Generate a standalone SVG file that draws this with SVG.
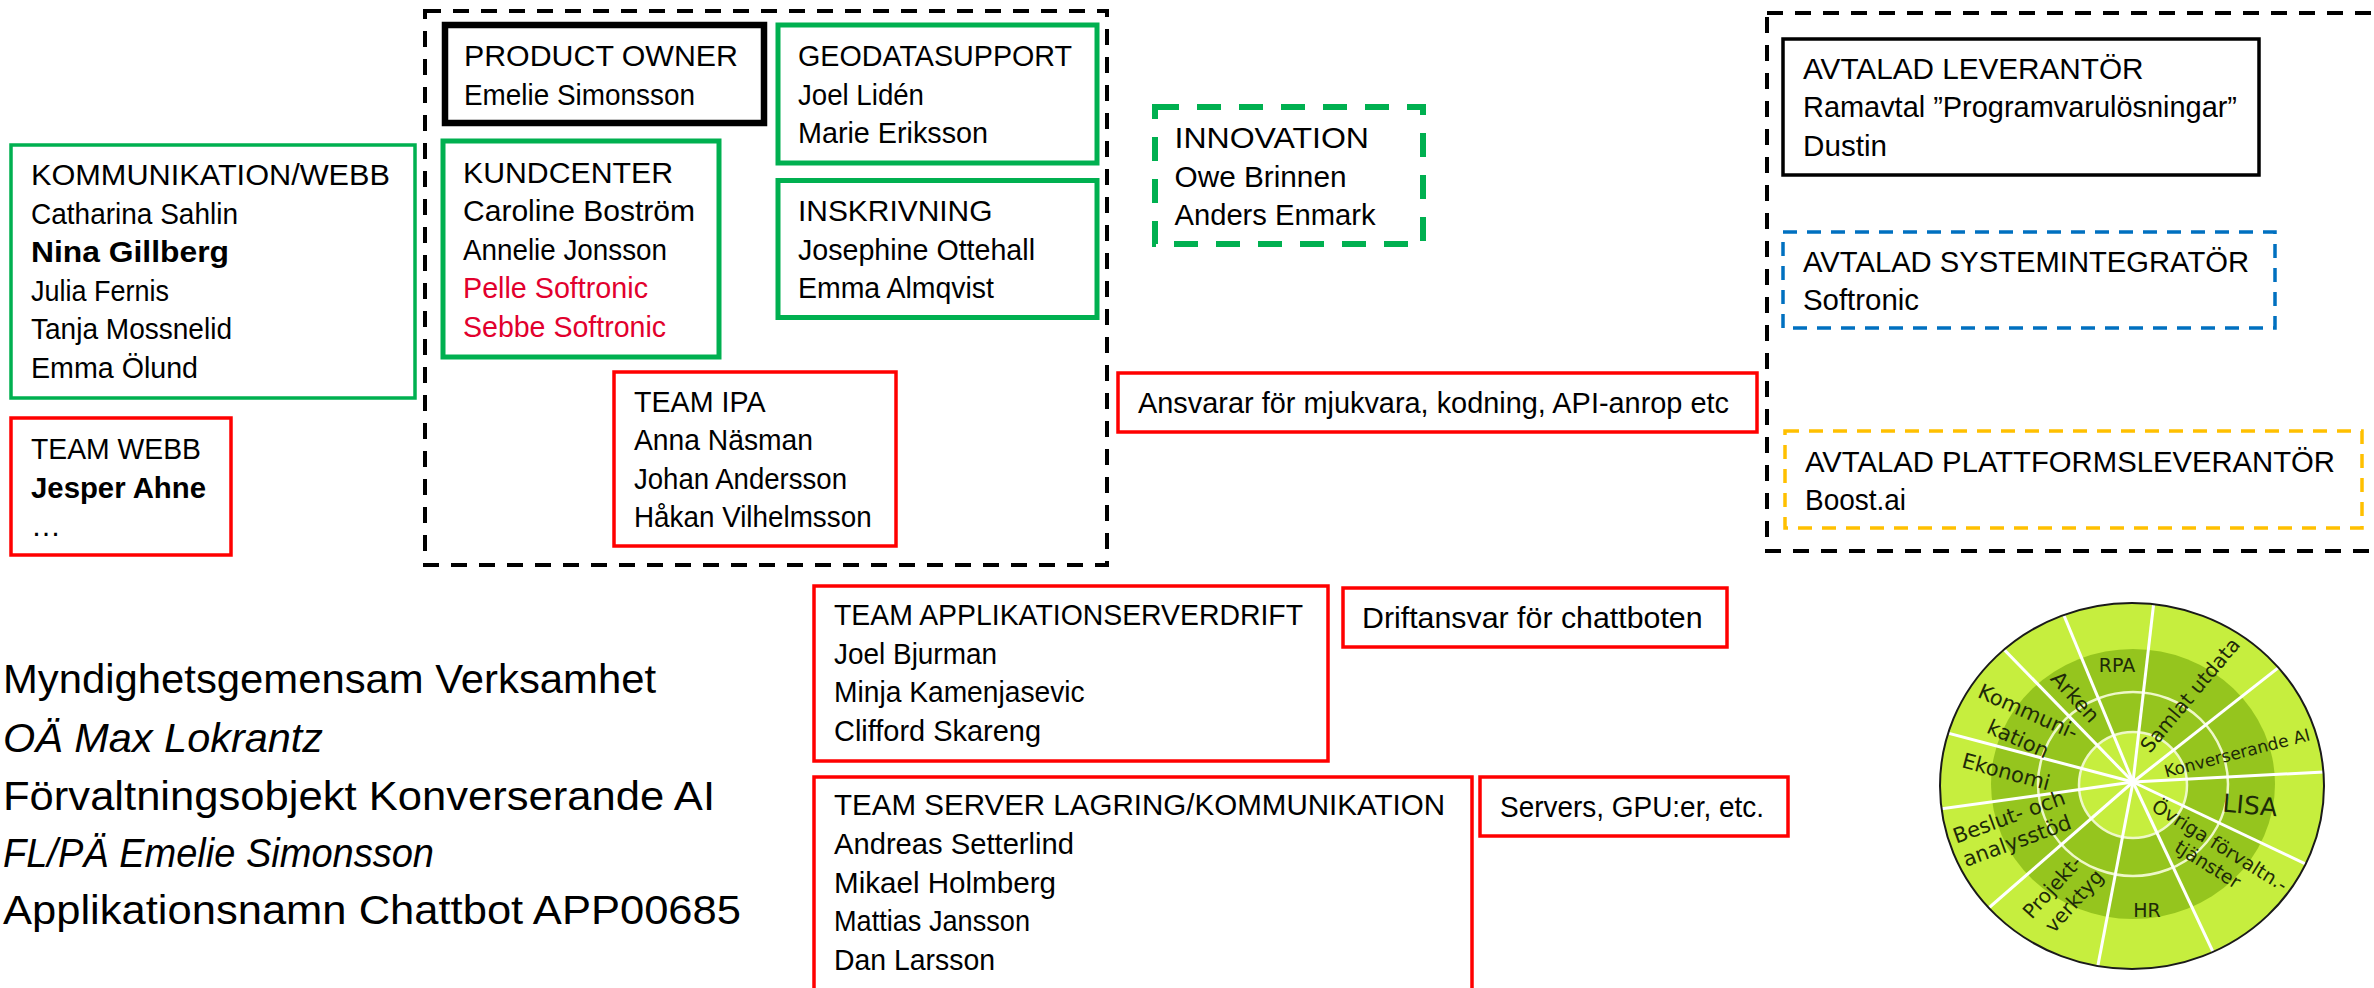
<svg xmlns="http://www.w3.org/2000/svg" width="2374" height="988" viewBox="0 0 2374 988">
<defs>
<style>
.t{font-family:"Liberation Sans",Arial,sans-serif;font-size:30px;fill:#000}
.b{font-weight:bold}
.r{fill:#E2002D}
.big{font-family:"Liberation Sans",Arial,sans-serif;font-size:40px;fill:#000}
.it{font-style:italic}
.grn{fill:#fff;stroke:#00B050;stroke-width:5}
.grn4{fill:#fff;stroke:#00B050;stroke-width:3.5}
.red{fill:#fff;stroke:#FF0000;stroke-width:3.5}
.blk{fill:#fff;stroke:#000;stroke-width:3.5}
.dash{fill:none;stroke:#000;stroke-width:4;stroke-dasharray:16 12}
.cl{font-family:"DejaVu Sans",Verdana,sans-serif;fill:#1E2A08;text-anchor:middle}
.spoke{stroke:#fff;stroke-width:3}
.ring{fill:none;stroke:#EEF8C8;stroke-width:2.5}
</style>
<clipPath id="wheelclip"><ellipse cx="2132" cy="786" rx="192" ry="183"/></clipPath>
</defs>
<rect width="2374" height="988" fill="#fff"/>

<g id="group-core">
<rect class="dash" x="425" y="11" width="682" height="554"/>
</g>
<g id="group-suppliers">
<rect class="dash" x="1767" y="13" width="620" height="538"/>
</g>

<g id="product-owner">
<rect x="445" y="25" width="319" height="98" fill="#fff" stroke="#000" stroke-width="6.5"/>
<text class="t" x="464" y="66" textLength="274" lengthAdjust="spacingAndGlyphs">PRODUCT OWNER</text>
<text class="t" x="464" y="105" textLength="231" lengthAdjust="spacingAndGlyphs">Emelie Simonsson</text>
</g>

<g id="geodatasupport">
<rect class="grn" x="778" y="25" width="319" height="138"/>
<text class="t" x="798" y="66" textLength="274" lengthAdjust="spacingAndGlyphs">GEODATASUPPORT</text>
<text class="t" x="798" y="104.5" textLength="126" lengthAdjust="spacingAndGlyphs">Joel Lidén</text>
<text class="t" x="798" y="143" textLength="190" lengthAdjust="spacingAndGlyphs">Marie Eriksson</text>
</g>

<g id="kundcenter">
<rect class="grn" x="443" y="141" width="276" height="216"/>
<text class="t" x="463" y="182.5" textLength="210" lengthAdjust="spacingAndGlyphs">KUNDCENTER</text>
<text class="t" x="463" y="221" textLength="232" lengthAdjust="spacingAndGlyphs">Caroline Boström</text>
<text class="t" x="463" y="259.5" textLength="204" lengthAdjust="spacingAndGlyphs">Annelie Jonsson</text>
<text class="t r" x="463" y="298" textLength="185" lengthAdjust="spacingAndGlyphs">Pelle Softronic</text>
<text class="t r" x="463" y="336.5" textLength="203" lengthAdjust="spacingAndGlyphs">Sebbe Softronic</text>
</g>

<g id="inskrivning">
<rect class="grn" x="778" y="180.5" width="319" height="137"/>
<text class="t" x="798" y="221" textLength="194.5" lengthAdjust="spacingAndGlyphs">INSKRIVNING</text>
<text class="t" x="798" y="259.5" textLength="237" lengthAdjust="spacingAndGlyphs">Josephine Ottehall</text>
<text class="t" x="798" y="298" textLength="196" lengthAdjust="spacingAndGlyphs">Emma Almqvist</text>
</g>

<g id="kommunikation-webb">
<rect class="grn4" x="11" y="145" width="404" height="253"/>
<text class="t" x="31" y="185" textLength="359" lengthAdjust="spacingAndGlyphs">KOMMUNIKATION/WEBB</text>
<text class="t" x="31" y="223.5" textLength="207" lengthAdjust="spacingAndGlyphs">Catharina Sahlin</text>
<text class="t b" x="31" y="262" textLength="198" lengthAdjust="spacingAndGlyphs">Nina Gillberg</text>
<text class="t" x="31" y="300.5" textLength="138" lengthAdjust="spacingAndGlyphs">Julia Fernis</text>
<text class="t" x="31" y="339" textLength="201" lengthAdjust="spacingAndGlyphs">Tanja Mossnelid</text>
<text class="t" x="31" y="377.5" textLength="167" lengthAdjust="spacingAndGlyphs">Emma Ölund</text>
</g>

<g id="team-webb">
<rect class="red" x="11" y="418" width="220" height="137"/>
<text class="t" x="31" y="459" textLength="170" lengthAdjust="spacingAndGlyphs">TEAM WEBB</text>
<text class="t b" x="31" y="497.5" textLength="175" lengthAdjust="spacingAndGlyphs">Jesper Ahne</text>
<text class="t" x="31" y="536">…</text>
</g>

<g id="team-ipa">
<rect class="red" x="614" y="372" width="282" height="174"/>
<text class="t" x="634" y="411.5" textLength="131.6" lengthAdjust="spacingAndGlyphs">TEAM IPA</text>
<text class="t" x="634" y="450" textLength="179" lengthAdjust="spacingAndGlyphs">Anna Näsman</text>
<text class="t" x="634" y="488.5" textLength="213" lengthAdjust="spacingAndGlyphs">Johan Andersson</text>
<text class="t" x="634" y="527" textLength="237.6" lengthAdjust="spacingAndGlyphs">Håkan Vilhelmsson</text>
</g>

<g id="innovation">
<rect x="1155" y="107" width="268" height="137" fill="#fff" stroke="#00B050" stroke-width="6" stroke-dasharray="24 18"/>
<text class="t" x="1174.5" y="148" textLength="194.5" lengthAdjust="spacingAndGlyphs">INNOVATION</text>
<text class="t" x="1174.5" y="186.5" textLength="172" lengthAdjust="spacingAndGlyphs">Owe Brinnen</text>
<text class="t" x="1174.5" y="225" textLength="201" lengthAdjust="spacingAndGlyphs">Anders Enmark</text>
</g>

<g id="ansvarar">
<rect class="red" x="1118" y="373" width="639" height="59"/>
<text class="t" x="1138" y="412.5" textLength="591" lengthAdjust="spacingAndGlyphs">Ansvarar för mjukvara, kodning, API-anrop etc</text>
</g>

<g id="avtalad-leverantor">
<rect class="blk" x="1783" y="39" width="476" height="136"/>
<text class="t" x="1803" y="78.5" textLength="340.5" lengthAdjust="spacingAndGlyphs">AVTALAD LEVERANTÖR</text>
<text class="t" x="1803" y="117" textLength="434" lengthAdjust="spacingAndGlyphs">Ramavtal ”Programvarulösningar”</text>
<text class="t" x="1803" y="155.5" textLength="84" lengthAdjust="spacingAndGlyphs">Dustin</text>
</g>

<g id="avtalad-systemintegrator">
<rect x="1783" y="232" width="492" height="96" fill="#fff" stroke="#0070C0" stroke-width="3.5" stroke-dasharray="14 10"/>
<text class="t" x="1803" y="272" textLength="446" lengthAdjust="spacingAndGlyphs">AVTALAD SYSTEMINTEGRATÖR</text>
<text class="t" x="1803" y="310" textLength="116" lengthAdjust="spacingAndGlyphs">Softronic</text>
</g>

<g id="avtalad-plattformsleverantor">
<rect x="1785" y="431" width="577" height="97" fill="#fff" stroke="#FFC000" stroke-width="3.5" stroke-dasharray="14 10"/>
<text class="t" x="1805" y="472" textLength="530" lengthAdjust="spacingAndGlyphs">AVTALAD PLATTFORMSLEVERANTÖR</text>
<text class="t" x="1805" y="510" textLength="101" lengthAdjust="spacingAndGlyphs">Boost.ai</text>
</g>

<g id="team-applikationserverdrift">
<rect class="red" x="814" y="586" width="514" height="175"/>
<text class="t" x="834" y="625" textLength="469" lengthAdjust="spacingAndGlyphs">TEAM APPLIKATIONSERVERDRIFT</text>
<text class="t" x="834" y="663.5" textLength="163" lengthAdjust="spacingAndGlyphs">Joel Bjurman</text>
<text class="t" x="834" y="702" textLength="250.6" lengthAdjust="spacingAndGlyphs">Minja Kamenjasevic</text>
<text class="t" x="834" y="740.5" textLength="207" lengthAdjust="spacingAndGlyphs">Clifford Skareng</text>
</g>

<g id="driftansvar">
<rect class="red" x="1343" y="588" width="384" height="59"/>
<text class="t" x="1362" y="627.5" textLength="340.6" lengthAdjust="spacingAndGlyphs">Driftansvar för chattboten</text>
</g>

<g id="team-server">
<rect class="red" x="814" y="777" width="658" height="230"/>
<text class="t" x="834" y="815" textLength="611" lengthAdjust="spacingAndGlyphs">TEAM SERVER LAGRING/KOMMUNIKATION</text>
<text class="t" x="834" y="854" textLength="240" lengthAdjust="spacingAndGlyphs">Andreas Setterlind</text>
<text class="t" x="834" y="892.5" textLength="222" lengthAdjust="spacingAndGlyphs">Mikael Holmberg</text>
<text class="t" x="834" y="931" textLength="196" lengthAdjust="spacingAndGlyphs">Mattias Jansson</text>
<text class="t" x="834" y="969.5" textLength="161" lengthAdjust="spacingAndGlyphs">Dan Larsson</text>
</g>

<g id="servers">
<rect class="red" x="1480" y="777" width="308" height="59"/>
<text class="t" x="1500" y="817" textLength="264" lengthAdjust="spacingAndGlyphs">Servers, GPU:er, etc.</text>
</g>

<g id="info-text">
<text class="big" x="3" y="693" textLength="653" lengthAdjust="spacingAndGlyphs">Myndighetsgemensam Verksamhet</text>
<text class="big it" x="3" y="751.5" textLength="320" lengthAdjust="spacingAndGlyphs">OÄ Max Lokrantz</text>
<text class="big" x="3" y="809.5" textLength="712" lengthAdjust="spacingAndGlyphs">Förvaltningsobjekt Konverserande AI</text>
<text class="big it" x="3" y="866.5" textLength="431" lengthAdjust="spacingAndGlyphs">FL/PÄ Emelie Simonsson</text>
<text class="big" x="3" y="924" textLength="738" lengthAdjust="spacingAndGlyphs">Applikationsnamn Chattbot APP00685</text>
</g>

<g id="wheel">
<ellipse cx="2132" cy="786" rx="192" ry="183" fill="#C6EE3E"/>
<ellipse cx="2133" cy="784" rx="142" ry="135" fill="#95C51E"/>
<ellipse class="ring" cx="2133" cy="784" rx="95" ry="92"/>
<ellipse cx="2133" cy="785" rx="54" ry="53" fill="#C6EE3E" stroke="#EEF8C8" stroke-width="2.5"/>
<g clip-path="url(#wheelclip)">
<line class="spoke" x1="2133" y1="782" x2="2157.2" y2="573.3"/>
<line class="spoke" x1="2133" y1="782" x2="2052.6" y2="588"/>
<line class="spoke" x1="2133" y1="782" x2="1986.4" y2="631.4"/>
<line class="spoke" x1="2133" y1="782" x2="1930" y2="728.4"/>
<line class="spoke" x1="2133" y1="782" x2="1925.1" y2="811.2"/>
<line class="spoke" x1="2133" y1="782" x2="1974.9" y2="920"/>
<line class="spoke" x1="2133" y1="782" x2="2093.6" y2="988.2"/>
<line class="spoke" x1="2133" y1="782" x2="2222.5" y2="972"/>
<line class="spoke" x1="2133" y1="782" x2="2322.6" y2="872.1"/>
<line class="spoke" x1="2133" y1="782" x2="2342.6" y2="770.9"/>
<line class="spoke" x1="2133" y1="782" x2="2298" y2="652.2"/>
</g>
<ellipse cx="2132" cy="786" rx="192" ry="183" fill="none" stroke="#1A1A1A" stroke-width="2"/>
<text class="cl" x="2117" y="672" font-size="19">RPA</text>
<text class="cl" font-size="20" transform="translate(2190,695) rotate(-50)" y="7">Samlat utdata</text>
<text class="cl" font-size="17" transform="translate(2237,753) rotate(-14.5)" y="6">Konverserande AI</text>
<text class="cl" font-size="25" transform="translate(2250,805) rotate(5)" y="9">LISA</text>
<text class="cl" font-size="19" transform="translate(2220,845) rotate(32)" y="7">Övriga förvaltn.-</text>
<text class="cl" font-size="19" transform="translate(2208,864) rotate(32)" y="7">tjänster</text>
<text class="cl" x="2147" y="917" font-size="19">HR</text>
<text class="cl" font-size="20" transform="translate(2052,887) rotate(-48)" y="7">Projekt-</text>
<text class="cl" font-size="20" transform="translate(2074,901) rotate(-48)" y="7">verktyg</text>
<text class="cl" font-size="21" transform="translate(2009,817) rotate(-20)" y="7">Beslut- och</text>
<text class="cl" font-size="21" transform="translate(2017,841) rotate(-20)" y="7">analysstöd</text>
<text class="cl" font-size="21" transform="translate(2006,772) rotate(15)" y="7">Ekonomi</text>
<text class="cl" font-size="21" transform="translate(2028,712) rotate(24)" y="7">Kommuni-</text>
<text class="cl" font-size="21" transform="translate(2018,739) rotate(24)" y="7">kation</text>
<text class="cl" font-size="21" transform="translate(2075,697) rotate(48)" y="7">Arken</text>
</g>

<g id="connectors"/>
</svg>
